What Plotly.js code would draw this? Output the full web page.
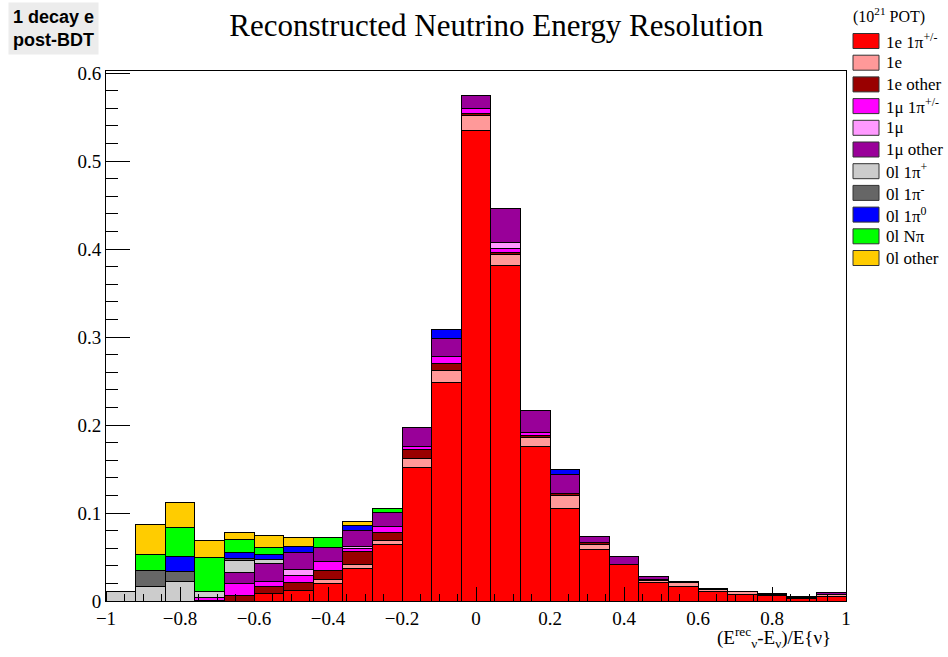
<!DOCTYPE html>
<html>
<head>
<meta charset="utf-8">
<script src="https://cdn.plot.ly/plotly-3.0.1.min.js"></script>
<style>
  html, body { margin: 0; padding: 0; background: #ffffff; }
  #chart { width: 948px; height: 657px; }
</style>
</head>
<body>
<div id="chart"></div>
<script>
// Bin centres of the 25 bins (width 0.08) from -1 to 1
const binCenters = [-0.96, -0.88, -0.80, -0.72, -0.64, -0.56, -0.48, -0.40, -0.32, -0.24,
                    -0.16, -0.08, 0.00, 0.08, 0.16, 0.24, 0.32, 0.40, 0.48, 0.56,
                    0.64, 0.72, 0.80, 0.88, 0.96];

// Category names (legend order, bottom of stack first)
const categories = ["1e 1π<sup>+/-</sup>", "1e", "1e other", "1μ 1π<sup>+/-</sup>", "1μ", "1μ other",
                    "0l 1π<sup>+</sup>", "0l 1π<sup>-</sup>", "0l 1π<sup>0</sup>", "0l Nπ", "0l other"];

// Series values per bin
const e1pi     = [0, 0, 0, 0, 0, 0.0088, 0.0125, 0.0201, 0.0372, 0.0644, 0.152, 0.2485, 0.5352, 0.3818, 0.1761, 0.1053, 0.0587, 0.042, 0.0205, 0.0163, 0.0106, 0.0078, 0.0062, 0.003, 0.0049];
const e1       = [0, 0, 0, 0, 0, 0, 0, 0.0045, 0.0038, 0.0049, 0.0102, 0.014, 0.0163, 0.0114, 0.0099, 0.0144, 0.006, 0, 0.0025, 0.0045, 0.0025, 0.0025, 0.0008, 0.0008, 0.0023];
const eOther   = [0, 0, 0, 0.0005, 0.006, 0.0075, 0.0083, 0.0106, 0.015, 0.0083, 0.0095, 0.0076, 0.0027, 0.0026, 0.0026, 0.0019, 0.0015, 0, 0.001, 0.0005, 0.0005, 0.0005, 0.0017, 0.0017, 0.0005];
const mu1pi    = [0, 0, 0, 0.0035, 0.0141, 0.0057, 0.0087, 0.0094, 0.0038, 0.0068, 0.0038, 0.0076, 0.0057, 0.005, 0.0026, 0, 0, 0, 0, 0, 0, 0, 0, 0, 0];
const mu1      = [0, 0, 0, 0, 0, 0, 0.0065, 0, 0.0026, 0, 0, 0, 0, 0.0064, 0, 0, 0, 0, 0, 0, 0, 0, 0, 0, 0];
const muOther  = [0, 0, 0, 0, 0.012, 0.0201, 0.0193, 0.0159, 0.0182, 0.0159, 0.022, 0.0208, 0.0151, 0.0383, 0.025, 0.0224, 0.0068, 0.0091, 0.0034, 0.0014, 0.0008, 0.0005, 0, 0, 0.0019];
const l0pip    = [0.0106, 0.0163, 0.022, 0.0068, 0.0144, 0.0045, 0, 0, 0, 0, 0, 0, 0, 0, 0, 0, 0, 0, 0, 0, 0, 0, 0, 0, 0];
const l0pim    = [0, 0.0182, 0.0113, 0, 0.002, 0, 0, 0, 0, 0, 0, 0, 0, 0, 0, 0, 0, 0, 0, 0, 0, 0, 0, 0, 0];
const l0pi0    = [0, 0, 0.017, 0, 0.0068, 0.0068, 0.0064, 0, 0.0057, 0, 0, 0.0095, 0, 0, 0, 0.0057, 0, 0, 0, 0, 0, 0, 0, 0, 0];
const l0Npi    = [0, 0.0189, 0.0334, 0.0386, 0.0148, 0.0072, 0, 0.0114, 0, 0.005, 0, 0, 0, 0, 0, 0, 0, 0, 0, 0, 0, 0, 0, 0, 0];
const l0Other  = [0, 0.0341, 0.0284, 0.019, 0.0075, 0.0133, 0.0107, 0, 0.0038, 0, 0, 0, 0, 0, 0, 0, 0, 0, 0, 0, 0, 0, 0, 0, 0];

const seriesValues = [e1pi, e1, eOther, mu1pi, mu1, muOther, l0pip, l0pim, l0pi0, l0Npi, l0Other];
const colors = ["#ff0000", "#ff9999", "#990000", "#ff00ff", "#ff99ff", "#990099",
                "#cccccc", "#666666", "#0000ff", "#00ff00", "#ffcc00"];

// Axis tick labels
const xTickVals = [-1, -0.8, -0.6, -0.4, -0.2, 0, 0.2, 0.4, 0.6, 0.8, 1];
const xTickText = ["\u22121", "\u22120.8", "\u22120.6", "\u22120.4", "\u22120.2", "0", "0.2", "0.4", "0.6", "0.8", "1"];
const yTickVals = [0, 0.1, 0.2, 0.3, 0.4, 0.5, 0.6];
const yTickText = ["0", "0.1", "0.2", "0.3", "0.4", "0.5", "0.6"];

const serif = "Liberation Serif, Times New Roman, serif";

const traces = seriesValues.map((vals, i) => ({
  type: "bar",
  x: binCenters,
  y: vals,
  name: categories[i],
  showlegend: false,
  marker: { color: colors[i], line: { color: "#000000", width: 1 } },
  hoverinfo: "skip"
}));

const W = 948, H = 657;
const L = 106, R = 846, T = 71, B = 601;
const px2x = p => (p - L) / (R - L);
const px2y = p => (B - p) / (B - T);

// Legend drawn in the ROOT style (large boxes, tight rows)
const legendShapes = [];
const legendTexts = [];
const rowStep = 21.7, firstRow = 41;
categories.forEach((name, i) => {
  const cy = firstRow + rowStep * i;
  legendShapes.push({
    type: "rect", xref: "paper", yref: "paper",
    x0: px2x(853), x1: px2x(879), y0: px2y(cy + 7.5), y1: px2y(cy - 7.5),
    fillcolor: colors[i], line: { color: "#333333", width: 1 }
  });
  legendTexts.push({
    text: name, xref: "paper", yref: "paper",
    x: px2x(884), xanchor: "left", y: px2y(cy), yanchor: "middle",
    showarrow: false,
    font: { family: serif, size: 17, color: "#000" }
  });
});

const layout = {
  width: W, height: H,
  margin: { l: L, r: W - R, t: T, b: H - B, pad: 0, autoexpand: false },
  paper_bgcolor: "#ffffff",
  plot_bgcolor: "#ffffff",
  barmode: "stack",
  bargap: 0,
  showlegend: false,
  title: {
    text: "Reconstructed Neutrino Energy Resolution",
    font: { family: serif, size: 31, color: "#000000" },
    x: 500 / W, xanchor: "center", xref: "paper",
    y: 1 - 25 / H, yanchor: "middle", yref: "container"
  },
  xaxis: {
    range: [-1, 1],
    tickmode: "array", tickvals: xTickVals, ticktext: xTickText,
    ticks: "inside", ticklen: 14, tickcolor: "#000", tickwidth: 1,
    minor: { ticks: "inside", dtick: 0.05, tick0: 0, ticklen: 7, tickcolor: "#000", tickwidth: 1 },
    showgrid: false, zeroline: false,
    showline: true, linecolor: "#000", linewidth: 1, mirror: true,
    tickfont: { family: serif, size: 19, color: "#000" },
    fixedrange: true
  },
  yaxis: {
    range: [0, (B - T) / 880],
    tickmode: "array", tickvals: yTickVals, ticktext: yTickText,
    ticks: "inside", ticklen: 24, tickcolor: "#000", tickwidth: 1,
    minor: { ticks: "inside", dtick: 0.02, tick0: 0, ticklen: 12, tickcolor: "#000", tickwidth: 1 },
    showgrid: false, zeroline: false,
    showline: true, linecolor: "#000", linewidth: 1, mirror: true,
    tickfont: { family: serif, size: 19, color: "#000" },
    fixedrange: true
  },
  shapes: legendShapes,
  annotations: [
    {
      text: "(10<sup>21</sup> POT)",
      xref: "paper", yref: "paper",
      x: px2x(851), xanchor: "left", y: px2y(16), yanchor: "middle",
      showarrow: false,
      font: { family: serif, size: 16, color: "#000" }
    },
    ...legendTexts,
    {
      text: "<b>1 decay e<br>post-BDT</b>",
      xref: "paper", yref: "paper",
      x: px2x(8), xanchor: "left",
      y: px2y(2), yanchor: "top",
      align: "left",
      showarrow: false,
      bgcolor: "#ececec",
      borderpad: 4,
      font: { family: "Liberation Sans, Arial, sans-serif", size: 18, color: "#000" }
    },
    {
      text: "(E<sup>rec</sup><sub>ν</sub>-E<sub>ν</sub>)/E{ν}",
      xref: "paper", yref: "paper",
      x: px2x(833), xanchor: "right",
      y: px2y(637), yanchor: "middle",
      showarrow: false,
      font: { family: serif, size: 19, color: "#000" }
    }
  ]
};

Plotly.newPlot("chart", traces, layout, { staticPlot: true, displayModeBar: false });
</script>
</body>
</html>
